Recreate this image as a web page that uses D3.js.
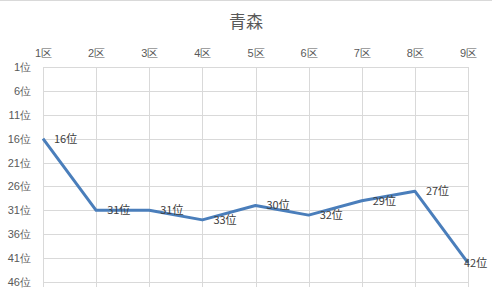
<!DOCTYPE html>
<html>
<head>
<meta charset="utf-8">
<script src="https://cdn.jsdelivr.net/npm/d3@7"></script>
<style>
  body { margin: 0; background: #fff; }
  svg { display: block; font-family: "Noto Sans CJK JP", "Noto Sans", sans-serif; }
  .axis path { display: none; }
  .axis text { fill: #595959; font-size: 11px; }
  .grid line { stroke: #d9d9d9; stroke-width: 1; }
</style>
</head>
<body>
<svg id="chart"></svg>
<script>
'use strict';

// データ
var title = '青森';
var districts = ['1区', '2区', '3区', '4区', '5区', '6区', '7区', '8区', '9区'];
var ranks = [16, 31, 31, 33, 30, 32, 29, 27, 42];
var rankTicks = [1, 6, 11, 16, 21, 26, 31, 36, 41, 46];

var W = 492, H = 302;
var margin = { top: 67, right: 24, bottom: 20, left: 43 };
var width = W - margin.left - margin.right;
var height = H - margin.top - margin.bottom;

var svg = d3.select('#chart').attr('width', W).attr('height', H);

// 上の枠線
svg.append('line').attr('x1', 0).attr('x2', W).attr('y1', 0.5).attr('y2', 0.5)
    .attr('stroke', '#d9d9d9');

svg.append('text').attr('x', W / 2).attr('y', 28).attr('text-anchor', 'middle')
    .attr('fill', '#595959').style('font-size', '17px').text(title);

var g = svg.append('g').attr('transform', 'translate(' + margin.left + ',' + margin.top + ')');

var x = d3.scalePoint().domain(districts).range([0, width]);
var y = d3.scaleLinear().domain([1, 46]).range([0, height]);

// グリッド
g.append('g').attr('class', 'grid')
    .selectAll('line.h').data(rankTicks).enter().append('line')
    .attr('x1', 0).attr('x2', width)
    .attr('y1', function (d) { return Math.round(y(d)) + 0.5; })
    .attr('y2', function (d) { return Math.round(y(d)) + 0.5; });

g.append('g').attr('class', 'grid')
    .selectAll('line.v').data(districts).enter().append('line')
    .attr('y1', 0).attr('y2', height + 5)
    .attr('x1', function (d) { return Math.round(x(d)) + 0.5; })
    .attr('x2', function (d) { return Math.round(x(d)) + 0.5; });

// 軸
var axisX = d3.axisTop(x).tickSize(0).tickPadding(10);
g.append('g').attr('class', 'axis').call(axisX);

var axisY = d3.axisLeft(y).tickValues(rankTicks).tickSize(0).tickPadding(12)
    .tickFormat(function (d) { return d + '位'; });
g.append('g').attr('class', 'axis').call(axisY);

// 折れ線
var line = d3.line()
    .x(function (d, i) { return x(districts[i]); })
    .y(function (d) { return y(d); });

g.append('path').datum(ranks)
    .attr('fill', 'none').attr('stroke', '#4a7ebb').attr('stroke-width', 3)
    .attr('stroke-linejoin', 'round')
    .attr('d', line);

// ラベル
g.selectAll('.lbl').data(ranks).enter().append('text')
    .attr('class', 'lbl')
    .attr('x', function (d, i) {
        var px = x(districts[i]) + 11;
        return Math.min(px, W - margin.left - 28);
    })
    .attr('y', function (d) { return y(d); })
    .attr('dy', '0.35em')
    .attr('fill', '#404040').style('font-size', '11px')
    .text(function (d) { return d + '位'; });
</script>
</body>
</html>
